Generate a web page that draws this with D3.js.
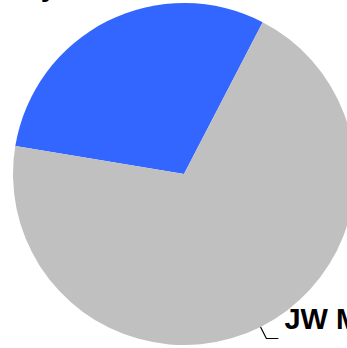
<!DOCTYPE html>
<html>
<head>
<meta charset="utf-8">
<script src="https://cdn.jsdelivr.net/npm/d3@7"></script>
<style>
  html, body { margin: 0; padding: 0; background: #fff; }
  svg { display: block; }
</style>
</head>
<body>
<svg id="chart" width="347" height="348"></svg>
<script>
// Share of properties by brand
const categories = ["Luxury", "JW Marriott"];
const values = [30, 70];
const colors = ["#3366FF", "#C0C0C0"];

const width = 347, height = 348;
const cx = 184, cy = 174, radius = 171;

const svg = d3.select("#chart");
const g = svg.append("g").attr("transform", `translate(${cx},${cy})`);

const pie = d3.pie()
  .sort(null)
  .value(d => d.value)
  .startAngle(-80.6 * Math.PI / 180)
  .endAngle((360 - 80.6) * Math.PI / 180);

const data = categories.map((c, i) => ({ name: c, value: values[i], color: colors[i] }));
const arcs = pie(data);

const arc = d3.arc().innerRadius(0).outerRadius(radius);

g.selectAll("path.slice")
  .data(arcs)
  .join("path")
  .attr("class", "slice")
  .attr("d", arc)
  .attr("fill", d => d.data.color);

const labelFont = "'Liberation Sans', Arial, sans-serif";

// Gray slice label with a leader line
const main = arcs[1];
const mid = (main.startAngle + main.endAngle) / 2;
const p0 = [Math.sin(mid) * radius, -Math.cos(mid) * radius];
const p1 = [Math.sin(mid) * (radius + 13), -Math.cos(mid) * (radius + 13)];
const p2 = [p1[0] + 12, p1[1]];

g.append("polyline")
  .attr("points", [p0, p1, p2].map(p => p.join(",")).join(" "))
  .attr("fill", "none")
  .attr("stroke", "#000")
  .attr("stroke-width", 1.2);

g.append("text")
  .attr("x", p2[0] + 6)
  .attr("y", p2[1] - 10)
  .attr("font-family", labelFont)
  .attr("font-weight", "bold")
  .attr("font-size", 29)
  .attr("fill", "#000")
  .text(main.data.name);

// Blue slice label, pushed above the plot
svg.append("text")
  .attr("x", 57)
  .attr("y", -4)
  .attr("text-anchor", "end")
  .attr("font-family", labelFont)
  .attr("font-weight", "bold")
  .attr("font-size", 29)
  .attr("fill", "#000")
  .text(arcs[0].data.name);
</script>
</body>
</html>
